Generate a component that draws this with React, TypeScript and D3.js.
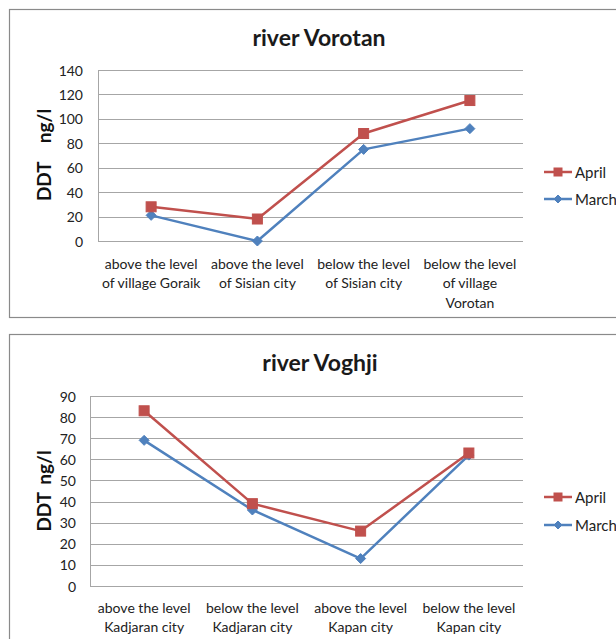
import React from "react";
import * as d3 from "d3";

const FONT = "Lato, 'Open Sans', sans-serif";
const APRIL_COLOR = "#C0504D";
const MARCH_COLOR = "#4F81BD";
const GRID = "#a6a6a6";

const seriesNames = ["April", "March"];

const title1 = "river Vorotan";
const categories1 = [
  ["above the level", "of village Goraik"],
  ["above the level", "of Sisian city"],
  ["below the level", "of Sisian city"],
  ["below the level", "of village", "Vorotan"],
];
const april1 = [28, 18, 88, 115];
const march1 = [21, 0, 75, 92];
const yTicks1 = [0, 20, 40, 60, 80, 100, 120, 140];

const title2 = "river Voghji";
const categories2 = [
  ["above the level", "Kadjaran city"],
  ["below the level", "Kadjaran city"],
  ["above the level", "Kapan city"],
  ["below the level", "Kapan city"],
];
const april2 = [83, 39, 26, 63];
const march2 = [69, 36, 13, 62];
const yTicks2 = [0, 10, 20, 30, 40, 50, 60, 70, 80, 90];

type Layout = {
  boxTop: number;
  boxBottom: number;
  plotLeft: number;
  plotRight: number;
  plotTop: number;
  plotBottom: number;
  titleX: number;
  titleY: number;
  tickRight: number;
  yTitleX: number;
  yTitleY: number;
  yTitleGap: number;
  labelY: number;
  legendY: [number, number];
};

function Diamond({ x, y, r, color }: { x: number; y: number; r: number; color: string }) {
  const p = `${x},${y - r} ${x + r},${y} ${x},${y + r} ${x - r},${y}`;
  return <polygon points={p} fill={color} stroke={color} strokeWidth={1} />;
}

function Square({ x, y, s, color }: { x: number; y: number; s: number; color: string }) {
  return <rect x={x - s / 2} y={y - s / 2} width={s} height={s} fill={color} stroke={color} strokeWidth={1} />;
}

function Chart({
  title,
  categories,
  april,
  march,
  yTicks,
  L,
}: {
  title: string;
  categories: string[][];
  april: number[];
  march: number[];
  yTicks: number[];
  L: Layout;
}) {
  const x = d3
    .scaleBand<number>()
    .domain(categories.map((_, i) => i))
    .range([L.plotLeft, L.plotRight]);
  const cx = (i: number) => (x(i) as number) + x.bandwidth() / 2;
  const y = d3
    .scaleLinear()
    .domain([0, yTicks[yTicks.length - 1]])
    .range([L.plotBottom, L.plotTop]);
  const line = d3
    .line<number>()
    .x((_, i) => cx(i))
    .y((d) => y(d));

  return (
    <g>
      <rect
        x={9.5}
        y={L.boxTop + 0.5}
        width={640}
        height={L.boxBottom - L.boxTop}
        fill="#fff"
        stroke="#8a8a8a"
        strokeWidth={1.2}
      />
      <text
        x={L.titleX}
        y={L.titleY}
        textAnchor="middle"
        fontFamily={FONT}
        fontWeight="bold"
        fontSize={23}
        fill="#1a1a1a"
      >
        {title}
      </text>
      {yTicks.map((t) => (
        <line
          key={"g" + t}
          x1={L.plotLeft}
          x2={L.plotRight}
          y1={Math.round(y(t)) + 0.5}
          y2={Math.round(y(t)) + 0.5}
          stroke={GRID}
          strokeWidth={1}
        />
      ))}
      <line
        x1={L.plotLeft + 0.5}
        x2={L.plotLeft + 0.5}
        y1={L.plotTop}
        y2={L.plotBottom}
        stroke={GRID}
        strokeWidth={1}
      />
      {yTicks.map((t) => (
        <text
          key={"t" + t}
          x={L.tickRight}
          y={y(t)}
          textAnchor="end"
          dominantBaseline="central"
          fontFamily={FONT}
          fontSize={14}
          fill="#222"
        >
          {t}
        </text>
      ))}
      <text
        transform={`translate(${L.yTitleX},${L.yTitleY}) rotate(-90)`}
        textAnchor="middle"
        dominantBaseline="central"
        fontFamily={FONT}
        fontWeight="bold"
        fontSize={19}
        fill="#111"
      >
        <tspan>DDT</tspan>
        <tspan dx={L.yTitleGap}>ng/l</tspan>
      </text>
      {categories.map((lines, i) => (
        <text
          key={"c" + i}
          textAnchor="middle"
          fontFamily={FONT}
          fontSize={14}
          fill="#222"
        >
          {lines.map((ln, j) => (
            <tspan key={j} x={cx(i)} y={L.labelY + j * 19.5} dominantBaseline="central">
              {ln}
            </tspan>
          ))}
        </text>
      ))}
      <path d={line(march) || ""} fill="none" stroke={MARCH_COLOR} strokeWidth={2.5} strokeLinejoin="round" />
      {march.map((v, i) => (
        <Diamond key={"m" + i} x={cx(i)} y={y(v)} r={5} color={MARCH_COLOR} />
      ))}
      <path d={line(april) || ""} fill="none" stroke={APRIL_COLOR} strokeWidth={2.5} strokeLinejoin="round" />
      {april.map((v, i) => (
        <Square key={"a" + i} x={cx(i)} y={y(v)} s={10} color={APRIL_COLOR} />
      ))}
      {seriesNames.map((name, k) => {
        const ly = L.legendY[k];
        const color = k === 0 ? APRIL_COLOR : MARCH_COLOR;
        return (
          <g key={name}>
            <line x1={544} x2={572} y1={ly} y2={ly} stroke={color} strokeWidth={2.5} />
            {k === 0 ? (
              <Square x={558} y={ly} s={8} color={color} />
            ) : (
              <Diamond x={558} y={ly} r={4} color={color} />
            )}
            <text
              x={575}
              y={ly}
              dominantBaseline="central"
              fontFamily={FONT}
              fontSize={15}
              fill="#222"
            >
              {name}
            </text>
          </g>
        );
      })}
    </g>
  );
}

const layout1: Layout = {
  boxTop: 9,
  boxBottom: 317,
  plotLeft: 98,
  plotRight: 523,
  plotTop: 70,
  plotBottom: 241,
  titleX: 319,
  titleY: 46,
  tickRight: 83,
  yTitleX: 43,
  yTitleY: 155,
  yTitleGap: 20,
  labelY: 263,
  legendY: [172, 199],
};

const layout2: Layout = {
  boxTop: 334,
  boxBottom: 660,
  plotLeft: 90,
  plotRight: 523,
  plotTop: 396,
  plotBottom: 586,
  titleX: 320,
  titleY: 371,
  tickRight: 76,
  yTitleX: 43,
  yTitleY: 491,
  yTitleGap: 9,
  labelY: 607,
  legendY: [497, 525],
};

export default function App() {
  return (
    <svg
      width={616}
      height={639}
      style={{ position: "absolute", left: 0, top: 0, background: "#fff" }}
    >
      <rect x={0} y={0} width={616} height={639} fill="#fff" />
      <Chart title={title1} categories={categories1} april={april1} march={march1} yTicks={yTicks1} L={layout1} />
      <Chart title={title2} categories={categories2} april={april2} march={march2} yTicks={yTicks2} L={layout2} />
    </svg>
  );
}
